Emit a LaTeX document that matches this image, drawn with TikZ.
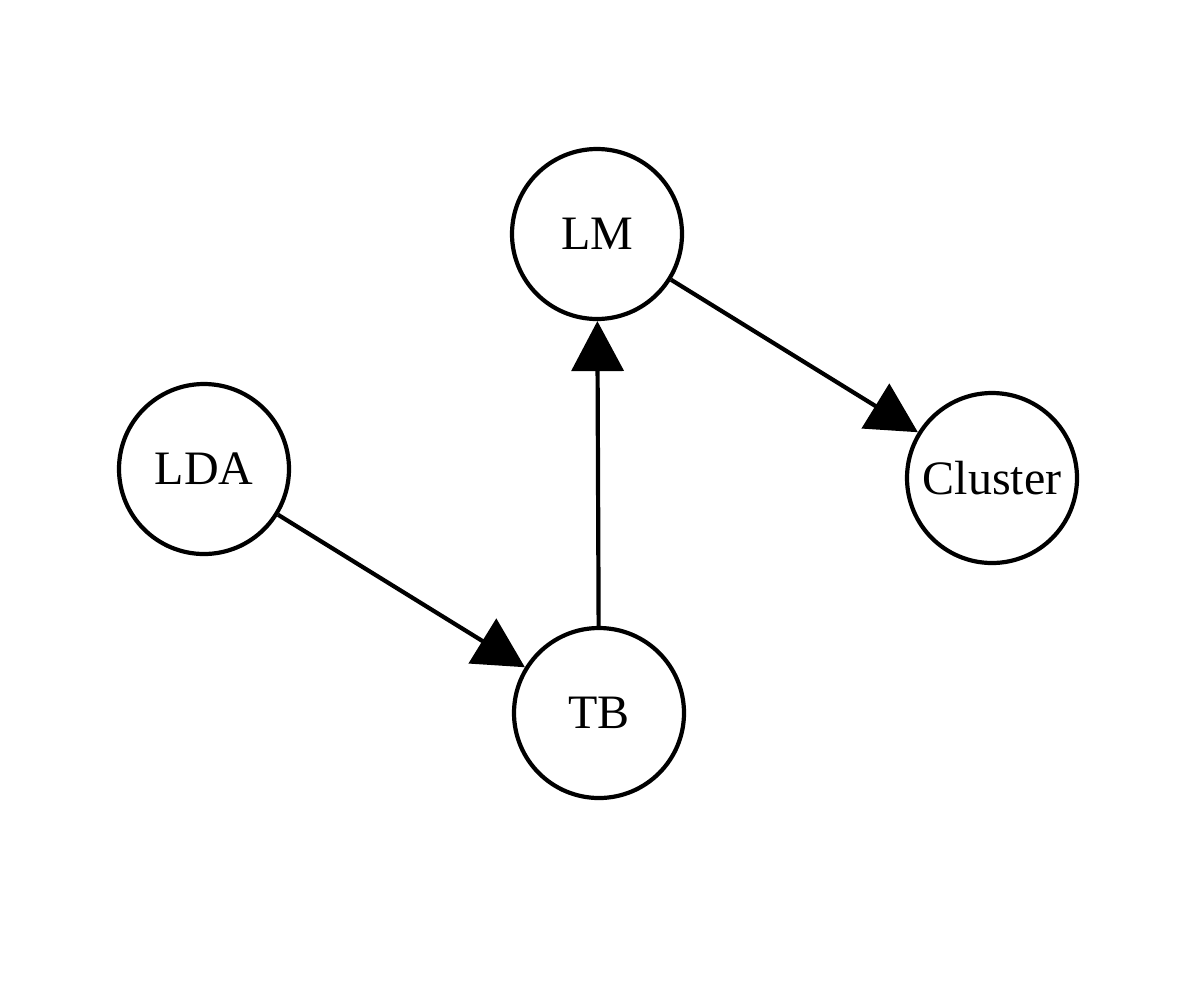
\documentclass[tikz,border=0pt]{standalone}
\usepackage{fontspec}
\setmainfont{Liberation Serif}
\usetikzlibrary{arrows.meta}
\begin{document}
\begin{tikzpicture}[x=1pt,y=-1pt,
  nodecirc/.style={circle,draw=black,line width=4.2pt,minimum size=170pt,inner sep=0pt,font=\fontsize{48}{52}\selectfont},
  edge/.style={line width=4.2pt,-{Triangle[length=50pt,width=52pt]}}]
\useasboundingbox (0,0) rectangle (1196,994);
\fill[white] (0,0) rectangle (1196,994);
\node[nodecirc] (LM) at (597,234) {LM};
\node[nodecirc] (LDA) at (204,469) {LDA};
\node[nodecirc] (Cluster) at (992,478) {Cluster};
\node[nodecirc] (TB) at (599,713) {TB};
\draw[edge] (LDA) -- (TB);
\draw[edge] (TB) -- (LM);
\draw[edge] (LM) -- (Cluster);
\end{tikzpicture}
\end{document}
